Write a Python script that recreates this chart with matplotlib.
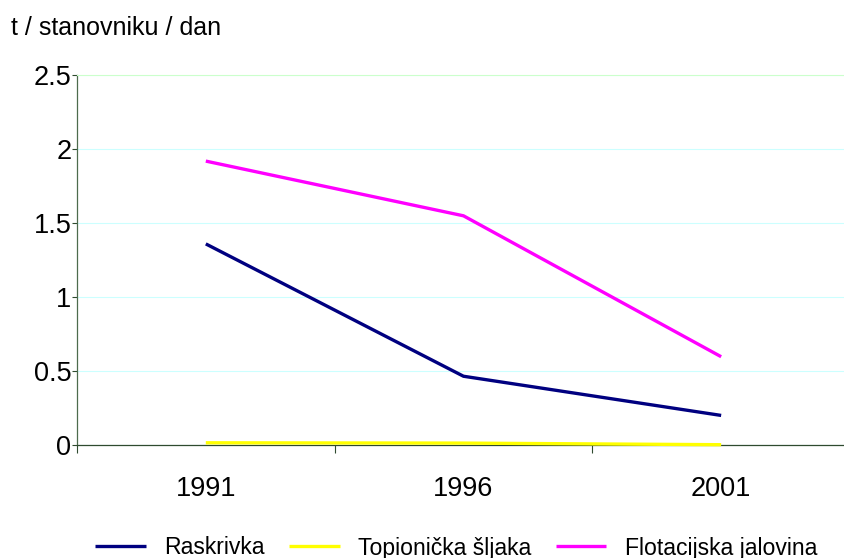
import numpy as np
import matplotlib.pyplot as plt

plt.rcParams['font.family'] = ['Liberation Sans', 'DejaVu Sans']

# Godine i količine otpada (t / stanovniku / dan)
godine = ['1991', '1996', '2001']
raskrivka = [1.36, 0.465, 0.20]
topionicka_sljaka = [0.015, 0.013, 0.002]
flotacijska_jalovina = [1.92, 1.55, 0.597]

nazivi = ['Raskrivka', 'Topionička šljaka', 'Flotacijska jalovina']
boje = ['#000080', '#ffff00', '#ff00ff']

fig = plt.figure(figsize=(8.44, 5.58), dpi=100)
ax = fig.add_axes([0.0912, 0.2025, 0.9159, 0.6625])

x = np.arange(len(godine))
for serija, naziv, boja in zip([raskrivka, topionicka_sljaka, flotacijska_jalovina], nazivi, boje):
    ax.plot(x, serija, color=boja, linewidth=2.4, label=naziv,
            solid_capstyle='butt', zorder=3, clip_on=False)

ax.set_xlim(-0.5, len(godine) - 0.5)
ax.set_ylim(0, 2.5)

# kategorije bez crtica, crtice na granicama kategorija
ax.set_xticks(x)
ax.set_xticklabels(godine)
ax.set_xticks(np.arange(-0.5, len(godine), 1.0), minor=True)
ax.tick_params(axis='x', which='major', length=0, pad=22, labelsize=19.5)
ax.tick_params(axis='x', which='minor', length=6, width=0.8, color='#2f4a2f', direction='out')

yt = [0, 0.5, 1, 1.5, 2, 2.5]
ax.set_yticks(yt)
ax.set_yticklabels(['0', '0.5', '1', '1.5', '2', '2.5'])
ax.tick_params(axis='y', length=3.6, width=0.8, color='#2f4a2f', pad=0.5, labelsize=19.5)

ax.yaxis.grid(True, color='#ccffff', linewidth=0.8)
ax.set_axisbelow(True)

ax.spines['right'].set_visible(False)
ax.spines['top'].set_color('#ccffcc')
ax.spines['top'].set_linewidth(0.8)
ax.spines['left'].set_color('#4d6b4d')
ax.spines['bottom'].set_color('#2f4a2f')
ax.spines['left'].set_linewidth(0.9)
ax.spines['bottom'].set_linewidth(0.9)

fig.text(0.013, 1 - 35 / 558, 't / stanovniku / dan', fontsize=18, va='baseline', ha='left')

fig.legend(loc='center left', bbox_to_anchor=(95 / 844, 1 - 548 / 558), ncol=3,
           frameon=False, fontsize=16.6, borderpad=0, borderaxespad=0,
           handlelength=2.2, handletextpad=0.8, columnspacing=1.05)

fig.savefig('out.png', dpi=100)
